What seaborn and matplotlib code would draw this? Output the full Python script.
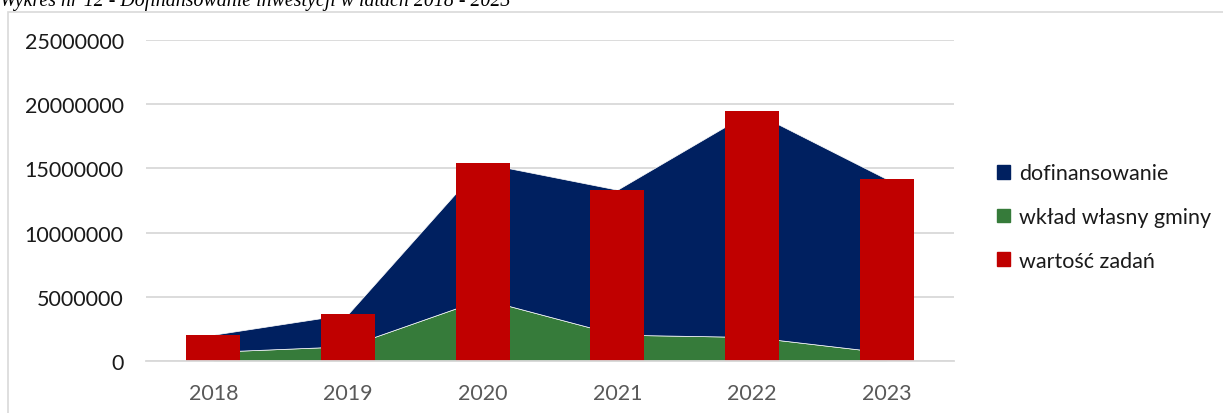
import numpy as np
import pandas as pd
import seaborn as sns
import matplotlib.pyplot as plt
from matplotlib.patches import Patch, Rectangle

# dane
lata = ['2018', '2019', '2020', '2021', '2022', '2023']
wartosc_zadan = [2050000, 3660000, 15420000, 13340000, 19470000, 14170000]
wklad_wlasny = [720000, 1150000, 4830000, 2050000, 1870000, 650000]
dofinansowanie = [1330000, 2510000, 10590000, 11290000, 17600000, 13520000]

kol_dof = '#002060'
kol_wklad = '#367b3a'
kol_wart = '#c00000'

sns.set_style('white')
plt.rcParams['font.family'] = ['Lato', 'DejaVu Sans']

df = pd.DataFrame({'rok': lata, 'wartosc': wartosc_zadan})

fig = plt.figure(figsize=(12.23, 4.14), dpi=100)
ax = fig.add_axes([146 / 1223, 1 - 362 / 414, (954 - 146) / 1223, (362 - 41) / 414])

# obszar skumulowany: wkład własny + dofinansowanie
pos = np.arange(len(lata))
ax.stackplot(pos, wklad_wlasny, dofinansowanie, colors=[kol_wklad, kol_dof],
             edgecolor='white', linewidth=0.5, zorder=2)

# słupki wartości zadań
sns.barplot(data=df, x='rok', y='wartosc', color=kol_wart, saturation=1,
            width=0.4, ax=ax, zorder=3, linewidth=0)

ax.set_ylim(0, 25000000)
ax.set_xlim(-0.5, len(lata) - 0.5)
ax.set_yticks(range(0, 25000001, 5000000))
ax.set_yticklabels([str(v) for v in range(0, 25000001, 5000000)])
ax.set_xlabel('')
ax.set_ylabel('')

ax.grid(axis='y', color='#d9d9d9', linewidth=1.3)
ax.set_axisbelow(True)
for s in ['top', 'right', 'left']:
    ax.spines[s].set_visible(False)
ax.spines['bottom'].set_color('#d9d9d9')
ax.spines['bottom'].set_linewidth(1.3)
ax.spines['bottom'].set_zorder(4)

ax.tick_params(axis='y', length=0, pad=16, labelsize=15.5, labelcolor='#1a1a1a')
ax.tick_params(axis='x', which='major', length=0, pad=16, labelsize=15.5, labelcolor='#595959')
ax.set_xticks(np.arange(-0.5, len(lata), 1.0), minor=True)
ax.tick_params(axis='x', which='minor', length=6, width=1.3, color='#d9d9d9', direction='out')

# legenda
uchwyty = [Patch(color=kol_dof, label='dofinansowanie'),
           Patch(color=kol_wklad, label='wkład własny gminy'),
           Patch(color=kol_wart, label='wartość zadań')]
fig.legend(handles=uchwyty, loc='center left', bbox_to_anchor=(978 / 1223, 1 - 218 / 414),
           frameon=False, fontsize=15.5, handlelength=0.6, handleheight=0.6,
           handletextpad=0.4, labelspacing=1.1, labelcolor='#1a1a1a')

# ramka wykresu
fig.patches.append(Rectangle((8 / 1223, -0.2), 1.2, 1.2 - 13 / 414,
                             transform=fig.transFigure, fill=False,
                             edgecolor='#d9d9d9', linewidth=1.2))

# tytuł (ucięty u góry)
fig.text(0.0, 1 - 6 / 414, 'Wykres nr 12 - Dofinansowanie inwestycji w latach 2018 - 2023',
         family='Liberation Serif', style='italic', fontsize=14.3, va='baseline',
         ha='left', color='#000000')

fig.savefig('out.png', dpi=100)
